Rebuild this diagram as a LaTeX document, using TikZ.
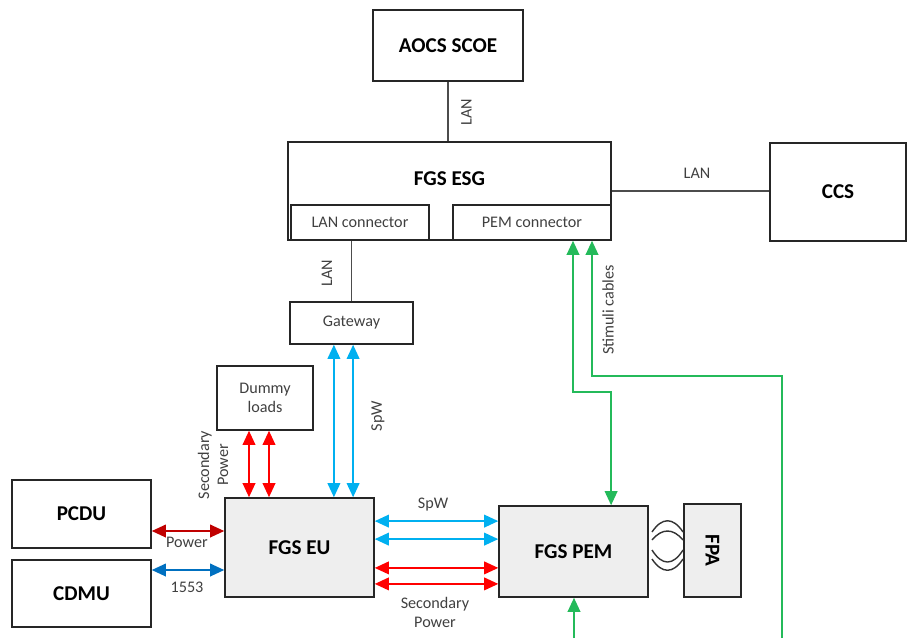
\documentclass[tikz,border=0pt]{standalone}
\usepackage{fontspec}
\usepackage{graphicx}
\setmainfont{Carlito}
\usetikzlibrary{arrows.meta}

\definecolor{spwblue}{RGB}{0,176,240}
\definecolor{secred}{RGB}{255,0,0}
\definecolor{pwrred}{RGB}{192,0,0}
\definecolor{busblue}{RGB}{0,112,192}
\definecolor{stimgreen}{RGB}{36,186,90}
\definecolor{unitgray}{RGB}{238,238,238}

\begin{document}
\begin{tikzpicture}[
    every node/.style={font=\fontsize{11.5}{13.5}\selectfont, text=black!75},
    block/.style={draw=black!85, line width=1.1pt, rectangle, align=center, inner sep=0pt},
    ext/.style={block, font=\fontsize{15}{18}\selectfont\bfseries, text=black},
    unit/.style={ext, fill=unitgray},
    lbl/.style={align=center, inner sep=1pt},
    lan/.style={draw=black!70, line width=0.8pt},
    link/.style={>={Triangle[length=10pt,width=9pt]}, <->, line width=1.1pt},
    spw/.style={link, draw=spwblue},
    secpwr/.style={link, draw=secred},
    power/.style={link, draw=pwrred},
    bus/.style={link, draw=busblue},
    stim/.style={line width=1.2pt, draw=stimgreen, >={Triangle[length=10pt,width=9pt]}},
    flex/.style={draw=black!80, line width=1pt}
]
\useasboundingbox (0,0) rectangle (22.7,-15.95);

\node[ext, minimum width=3.75cm, minimum height=1.775cm] (aocs) at (11.2,-1.1375) {AOCS SCOE};
\node[block, minimum width=8.075cm, minimum height=2.45cm,
      label={[font=\fontsize{15}{18}\selectfont\bfseries, text=black, yshift=0.3cm]center:FGS ESG}] (esg) at (11.2375,-4.775) {};
\node[block, minimum width=3.45cm, minimum height=0.875cm] (lanconn) at (9.0,-5.5625) {LAN connector};
\node[block, minimum width=3.95cm, minimum height=0.875cm] (pemconn) at (13.3,-5.5625) {PEM connector};
\node[ext, minimum width=3.4cm, minimum height=2.45cm] (ccs) at (20.95,-4.8) {CCS};
\node[block, minimum width=3.075cm, minimum height=1.05cm] (gateway) at (8.7875,-8.075) {Gateway};
\node[block, minimum width=2.4cm, minimum height=1.6cm] (dummy) at (6.625,-9.95) {Dummy\\loads};
\node[unit, minimum width=3.725cm, minimum height=2.475cm] (eu) at (7.4875,-13.6875) {FGS EU};
\node[ext, minimum width=3.475cm, minimum height=1.7cm] (pcdu) at (2.0375,-12.85) {PCDU};
\node[ext, minimum width=3.475cm, minimum height=1.675cm] (cdmu) at (2.0375,-14.8375) {CDMU};
\node[unit, minimum width=3.725cm, minimum height=2.275cm] (pem) at (14.3375,-13.7875) {FGS PEM};
\node[unit, minimum width=1.425cm, minimum height=2.325cm] (fpa) at (17.8125,-13.7625) {\rotatebox{-90}{FPA}};

% LAN links
\draw[lan] (aocs.south) -- (aocs.south |- esg.north);
\draw[lan] (esg.east) -- (esg.east -| ccs.west);
\draw[lan] (gateway.north |- lanconn.south) -- (gateway.north);
\node[lbl, rotate=90] (lanaocs) at (11.66,-2.8) {LAN};
\node[lbl] (lanccs) at (17.425,-4.325) {LAN};
\node[lbl, rotate=90] (langw) at (8.175,-6.825) {LAN};

% gateway and dummy loads to EU
\coordinate (gw1) at ([xshift=-0.44cm]gateway.south);
\coordinate (gw2) at ([xshift=0.04cm]gateway.south);
\draw[spw] (gw1) -- (gw1 |- eu.north);
\draw[spw] (gw2) -- (gw2 |- eu.north);
\node[lbl, rotate=90] (spwgw) at (9.45,-10.4) {SpW};
\coordinate (dl1) at ([xshift=-0.4cm]dummy.south);
\coordinate (dl2) at ([xshift=0.1cm]dummy.south);
\draw[secpwr] (dl1) -- (dl1 |- eu.north);
\draw[secpwr] (dl2) -- (dl2 |- eu.north);
\node[lbl, rotate=90] (secdummy) at (5.325,-11.625) {Secondary\\Power};

% platform units
\coordinate (pw) at ([yshift=-0.425cm]pcdu.east);
\draw[power] (pw) -- (pw -| eu.west);
\node[lbl] (pwlbl) at (4.675,-13.55) {Power};
\coordinate (mb) at ([yshift=0.5875cm]cdmu.east);
\draw[bus] (mb) -- (mb -| eu.west);
\node[lbl] (mblbl) at (4.675,-14.675) {1553};

% EU to PEM
\coordinate (sw1) at ([yshift=0.66cm]eu.east);
\coordinate (sw2) at ([yshift=0.21cm]eu.east);
\coordinate (sp1) at ([yshift=-0.51cm]eu.east);
\coordinate (sp2) at ([yshift=-0.91cm]eu.east);
\draw[spw] (sw1) -- (sw1 -| pem.west);
\draw[spw] (sw2) -- (sw2 -| pem.west);
\draw[secpwr] (sp1) -- (sp1 -| pem.west);
\draw[secpwr] (sp2) -- (sp2 -| pem.west);
\node[lbl] (spwpem) at (10.825,-12.625) {SpW};
\node[lbl] (secpem) at (10.875,-15.3) {Secondary\\Power};

% stimuli cables
\coordinate (st1) at ([xshift=1.025cm]pemconn.south);
\coordinate (st2) at ([xshift=1.5cm]pemconn.south);
\coordinate (pemin) at ([xshift=0.94cm]pem.north);
\coordinate (pemout) at ([xshift=0.0125cm]pem.south);
\coordinate (stimout) at (19.55,-15.95);
\coordinate (stimin) at (pemout |- stimout);
\draw[stim, <->] (st1) -- ++(0,-3.775) -| (pemin);
\draw[stim, <-] (st2) -- ++(0,-3.375) -| (stimout);
\draw[stim, ->] (stimin) -- (pemout);
\node[lbl, rotate=90] (stimlbl) at (15.2,-7.75) {Stimuli cables};

% flex cable PEM - FPA
\draw[flex] (16.3,-13.3) .. controls (16.55,-12.925) and (16.825,-12.925) .. (17.075,-13.3);
\draw[flex] (16.3,-13.5) .. controls (16.55,-13.2) and (16.825,-13.2) .. (17.075,-13.5);
\draw[flex] (16.3,-13.75) .. controls (16.55,-14.15) and (16.825,-14.15) .. (17.075,-13.75);
\draw[flex] (16.3,-13.975) .. controls (16.55,-14.35) and (16.825,-14.35) .. (17.075,-13.975);
\end{tikzpicture}
\end{document}
